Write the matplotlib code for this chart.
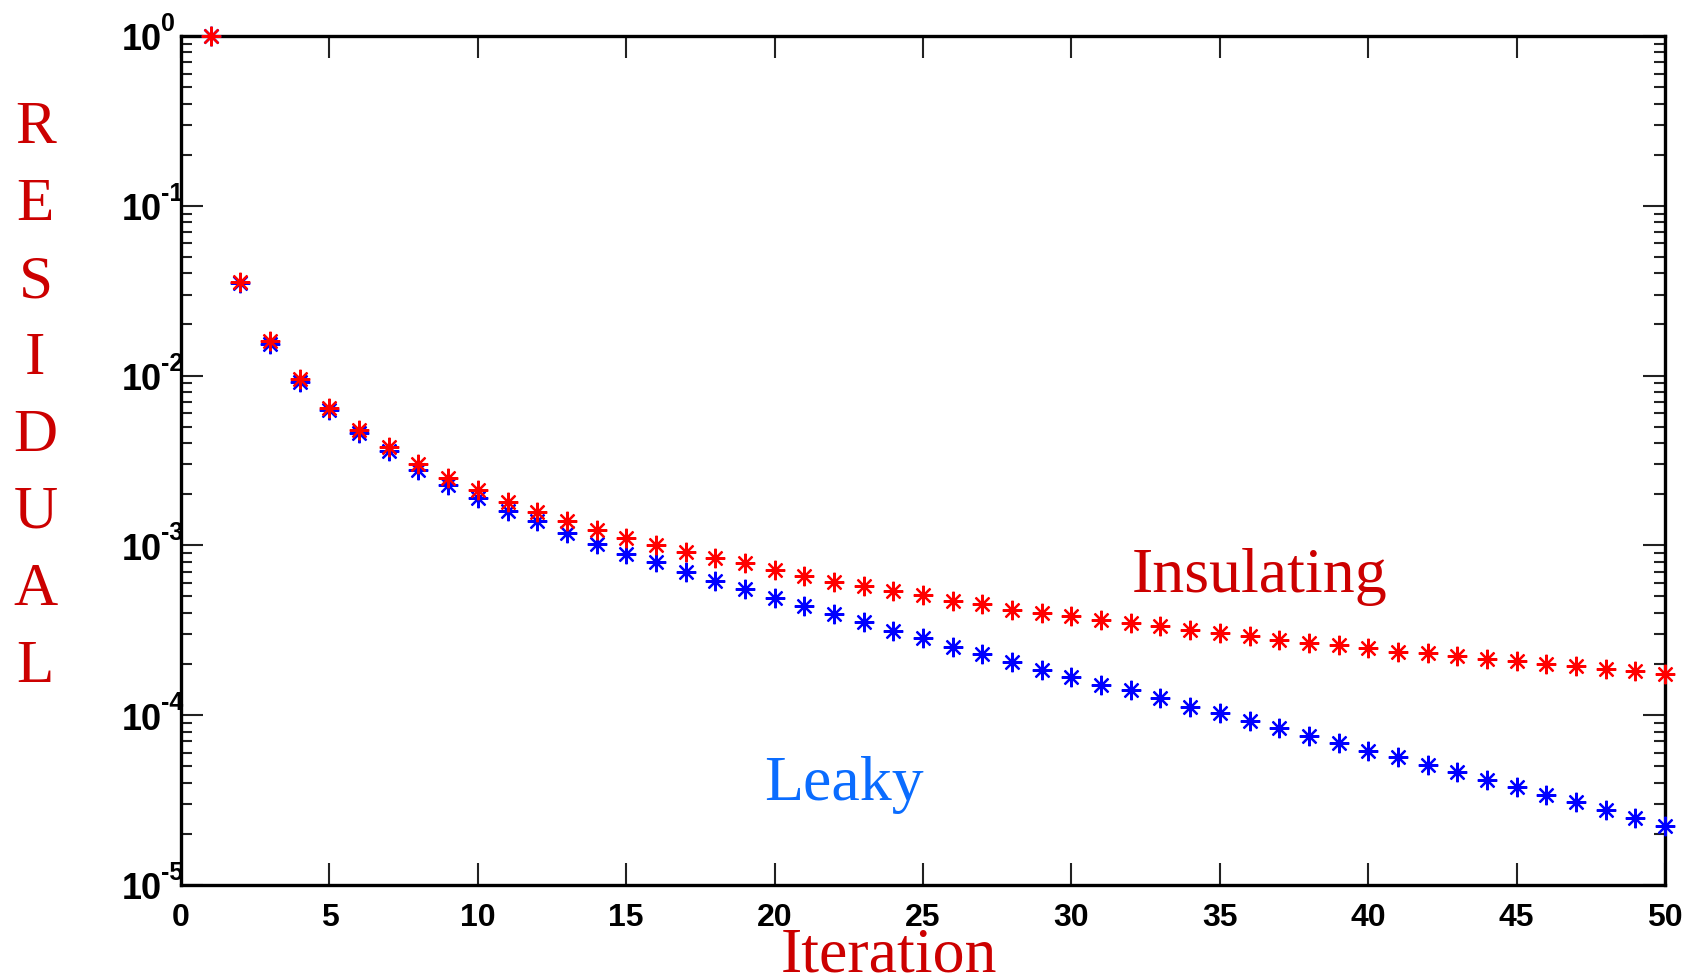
import numpy as np
import matplotlib
matplotlib.use("Agg")
import matplotlib.pyplot as plt
from matplotlib.ticker import LogLocator, FixedLocator, NullFormatter

iterations = list(range(1, 51))

insulating = [1.0, 0.0354, 0.0159, 0.0096, 0.0064, 0.0048, 0.0038, 0.0030, 0.00250, 0.00212,
              0.00180, 0.00158, 0.00139, 0.00123, 0.00111, 0.00101, 0.00092, 0.000845, 0.000785, 0.000720,
              0.000660, 0.000612, 0.000578, 0.000537, 0.000507, 0.000471, 0.000451, 0.000419, 0.000401, 0.000384,
              0.000363, 0.000350, 0.000333, 0.000319, 0.000304, 0.000291, 0.000277, 0.000266, 0.000260, 0.000248,
              0.000237, 0.000233, 0.000223, 0.000213, 0.000208, 0.000200, 0.000195, 0.000186, 0.000183, 0.000175]

leaky = [1.0, 0.0350, 0.0154, 0.0092, 0.0063, 0.0046, 0.00358, 0.00279, 0.00228, 0.00191,
         0.00160, 0.00139, 0.00118, 0.00102, 0.000895, 0.000796, 0.000698, 0.000621, 0.000553, 0.000492,
         0.000438, 0.000395, 0.000352, 0.000313, 0.000283, 0.000251, 0.000230, 0.000205, 0.000185, 0.000167,
         0.000151, 0.000140, 0.000126, 0.000112, 0.000103, 9.18e-05, 8.39e-05, 7.53e-05, 6.88e-05, 6.15e-05,
         5.64e-05, 5.06e-05, 4.62e-05, 4.13e-05, 3.77e-05, 3.39e-05, 3.10e-05, 2.77e-05, 2.48e-05, 2.22e-05]

x_ticks = [0, 5, 10, 15, 20, 25, 30, 35, 40, 45, 50]
y_exponents = [0, -1, -2, -3, -4, -5]

fig = plt.figure(figsize=(16.87, 9.78), dpi=100)
ax = fig.add_axes([0.1073, 0.0941, 0.8797, 0.8681])

star = (8, 2, 0)
ax.plot(iterations, leaky, linestyle='none', marker=star, markersize=14,
        markeredgewidth=1.6, color='#0000ff', zorder=3, clip_on=False)
ax.plot(iterations, insulating, linestyle='none', marker=star, markersize=14,
        markeredgewidth=1.6, color='#ff0000', zorder=4, clip_on=False)

ax.set_yscale('log')
ax.set_xlim(0, 50)
ax.set_ylim(1e-5, 1)

tick_font = dict(fontfamily='Liberation Sans', fontweight='bold')
ax.xaxis.set_major_locator(FixedLocator(x_ticks))
ax.set_xticklabels([str(t) for t in x_ticks], fontsize=23, **tick_font)
ax.yaxis.set_major_locator(FixedLocator([10.0 ** e for e in y_exponents]))
ax.set_yticklabels(['10'] * len(y_exponents), fontsize=26, **tick_font)
ax.yaxis.set_minor_locator(LogLocator(base=10, subs=np.arange(2, 10), numticks=20))
ax.yaxis.set_minor_formatter(NullFormatter())

# exponents drawn as small raised text beside each "10"
for e in y_exponents:
    ax.annotate(str(e), xy=(0, 10.0 ** e), xycoords=('axes fraction', 'data'),
                xytext=(-20, 6), textcoords='offset pixels', ha='left', va='baseline',
                fontsize=18, annotation_clip=False, **tick_font)

ax.tick_params(which='both', direction='in', top=True, right=True, color='#222222')
ax.tick_params(which='major', length=16, width=1.5)
ax.tick_params(which='minor', length=8, width=1.5)
ax.tick_params(axis='x', pad=12)
ax.tick_params(axis='y', pad=13.5)
for sp in ax.spines.values():
    sp.set_linewidth(2.4)

serif = 'Liberation Serif'
ax.text(36.35, 5.4e-4, 'Insulating', color='#cc0000', fontfamily=serif,
        fontsize=46, ha='center', va='baseline')
ax.text(22.34, 3.2e-5, 'Leaky', color='#0a6cff', fontfamily=serif,
        fontsize=46, ha='center', va='baseline')
fig.text(0.527, 0.007, 'Iteration', color='#cc0000', fontfamily=serif,
         fontsize=46, ha='center', va='baseline')
for i, ch in enumerate('RESIDUAL'):
    fig.text(0.021, 1 - (143 + i * 77) / 978, ch, color='#cc0000', fontfamily=serif,
             fontsize=44, ha='center', va='baseline')

fig.savefig('out.png', dpi=100)
